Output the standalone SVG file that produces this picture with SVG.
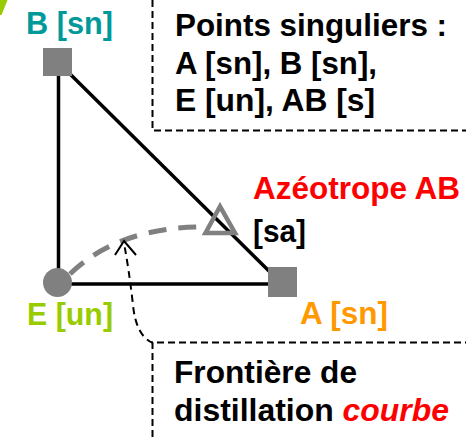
<svg xmlns="http://www.w3.org/2000/svg" width="466" height="437" viewBox="0 0 466 437">
<style>
text{font-family:"Liberation Sans",Arial,sans-serif;font-weight:bold;font-size:30.5px}
.blk{fill:#000}
.edge{stroke:#000;stroke-width:3.5;fill:none}
.box{stroke:#000;stroke-width:2;stroke-dasharray:7 4;fill:none}
.pt{fill:#808080}
</style>
<rect width="466" height="437" fill="#fff"/>
<polygon points="0,0 7.5,0 1.5,15 0,15" fill="#99cc00"/>
<g id="connectors">
<line class="edge" x1="58.5" y1="70" x2="58.5" y2="280"/>
<line class="edge" x1="58" y1="284" x2="275" y2="284"/>
<line class="edge" x1="66" y1="70" x2="276" y2="278"/>
<path d="M70 274 Q120 226 207 227" stroke="#808080" stroke-width="5" fill="none" stroke-dasharray="18 12"/>
<path d="M153 343 Q136 336 133 305 Q129 270 124 243" stroke="#000" stroke-width="2" fill="none" stroke-dasharray="7 5"/>
<polyline points="115,255 124,241 136,255" stroke="#000" stroke-width="2" fill="none"/>
</g>
<g id="box-singuliers">
<path class="box" d="M152.5 0 V130.5 H466"/>
<text x="175" y="36" textLength="272" lengthAdjust="spacingAndGlyphs">Points singuliers :</text>
<text x="175" y="74" textLength="202" lengthAdjust="spacingAndGlyphs">A [sn], B [sn],</text>
<text x="175" y="111" textLength="200" lengthAdjust="spacingAndGlyphs">E [un], AB [s]</text>
</g>
<g id="node-B">
<rect class="pt" x="43" y="48" width="29" height="28"/>
<text x="26" y="34" fill="#009999" textLength="87" lengthAdjust="spacingAndGlyphs">B [sn]</text>
</g>
<g id="node-E">
<circle class="pt" cx="57.5" cy="282.5" r="14.5"/>
<text x="27" y="325" fill="#99cc00" textLength="86" lengthAdjust="spacingAndGlyphs">E [un]</text>
</g>
<g id="node-A">
<rect class="pt" x="268" y="267" width="29" height="30"/>
<text x="300" y="324" fill="#ff9900" textLength="88" lengthAdjust="spacingAndGlyphs">A [sn]</text>
</g>
<g id="node-AB">
<polygon points="220,206.5 205.5,233 235,233" fill="none" stroke="#808080" stroke-width="4.5" stroke-linejoin="miter"/>
<text x="253" y="199" fill="#ff0000" textLength="207" lengthAdjust="spacingAndGlyphs">Azéotrope AB</text>
<text x="253" y="242" class="blk" textLength="53" lengthAdjust="spacingAndGlyphs">[sa]</text>
</g>
<g id="box-frontiere">
<path class="box" d="M152.5 437 V342.5 H466"/>
<text x="174" y="383" textLength="183" lengthAdjust="spacingAndGlyphs">Frontière de</text>
<text x="174" y="421" textLength="275" lengthAdjust="spacingAndGlyphs">distillation <tspan fill="#ff0000" font-style="italic">courbe</tspan></text>
</g>
</svg>
